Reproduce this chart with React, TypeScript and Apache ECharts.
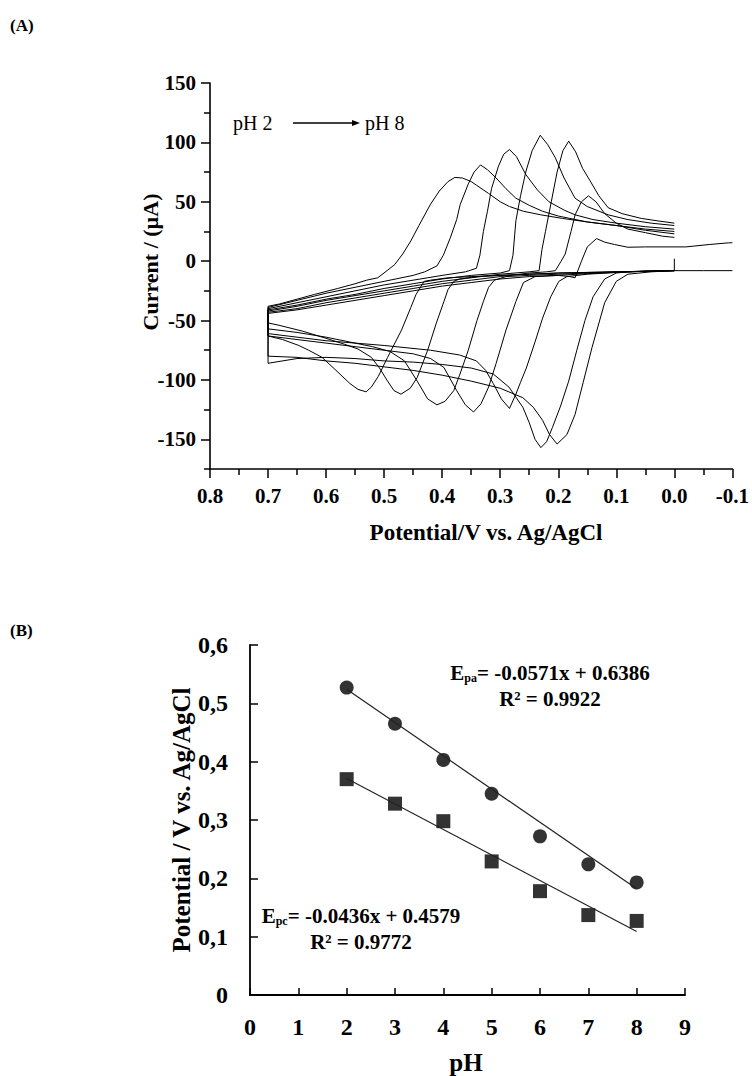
import React, { useEffect, useRef } from "react";
import * as echarts from "echarts";

type P = [number, number];

// ---------- (A) cyclic voltammograms: [potential V, current µA] ----------
const cvPH2: P[] = [
  [0.0, -8], [0.05, -8.5], [0.1, -9], [0.15, -9.5], [0.2, -10], [0.25, -11], [0.3, -12], [0.35, -13], [0.39, -14], [0.42, -16],
  [0.431, -17], [0.445, -28], [0.454, -39], [0.47, -58], [0.494, -81], [0.51, -97], [0.522, -106], [0.531, -110], [0.545, -108],
  [0.559, -103], [0.585, -91], [0.607, -81], [0.63, -75], [0.647, -71], [0.675, -66], [0.7, -63],
  [0.7, -38], [0.68, -36], [0.65, -32], [0.62, -28], [0.58, -23], [0.55, -19], [0.53, -16], [0.511, -14], [0.495, -8], [0.482, -3],
  [0.468, 6], [0.454, 17], [0.44, 30], [0.42, 48], [0.405, 59], [0.39, 67], [0.378, 70.5], [0.365, 70], [0.35, 67], [0.341, 64],
  [0.32, 57], [0.3, 50], [0.284, 46], [0.26, 42], [0.23, 39], [0.193, 36], [0.15, 33], [0.1, 30], [0.05, 27], [0.0, 25],
];
const cvPH3: P[] = [
  [0.0, -8], [0.05, -8.5], [0.1, -9], [0.15, -9.5], [0.2, -10], [0.25, -11], [0.3, -12], [0.34, -13], [0.37, -15], [0.38, -17],
  [0.39, -24], [0.397, -34], [0.41, -52], [0.425, -75], [0.443, -98], [0.455, -107], [0.471, -112], [0.483, -109], [0.494, -101],
  [0.508, -90], [0.522, -81], [0.545, -74], [0.568, -70], [0.6, -65], [0.64, -59], [0.681, -54], [0.7, -52],
  [0.7, -39], [0.65, -33], [0.6, -27], [0.55, -22], [0.5, -17], [0.45, -12], [0.43, -9], [0.409, -4], [0.398, 5], [0.386, 19.6],
  [0.375, 35], [0.369, 47.6], [0.355, 65], [0.345, 75], [0.334, 81], [0.322, 77], [0.307, 70], [0.29, 61], [0.273, 53], [0.25, 47],
  [0.227, 42], [0.2, 38], [0.15, 33], [0.1, 30], [0.05, 26], [0.0, 23],
];
const cvPH4: P[] = [
  [0.0, -8], [0.05, -8.5], [0.1, -9], [0.15, -10], [0.2, -11], [0.25, -12], [0.29, -13], [0.31, -16], [0.32, -22], [0.329, -34],
  [0.34, -50], [0.355, -75], [0.37, -96], [0.38, -109], [0.395, -118], [0.409, -121], [0.425, -116], [0.443, -101], [0.465, -84],
  [0.49, -76], [0.52, -72], [0.56, -68], [0.6, -64], [0.65, -60], [0.7, -57],
  [0.7, -40], [0.65, -35], [0.6, -30], [0.55, -25], [0.5, -20], [0.45, -16], [0.4, -12], [0.36, -9], [0.341, -6], [0.335, 5],
  [0.329, 25], [0.322, 42], [0.315, 61], [0.303, 80], [0.294, 90], [0.284, 94], [0.272, 88], [0.256, 73], [0.236, 60], [0.216, 50],
  [0.19, 43], [0.171, 39], [0.14, 35], [0.1, 32], [0.05, 29], [0.0, 27],
];
const cvPH5: P[] = [
  [0.0, -8], [0.05, -8.5], [0.1, -9.5], [0.15, -10.5], [0.2, -12], [0.24, -13], [0.26, -18], [0.273, -34], [0.29, -58], [0.307, -86],
  [0.32, -106], [0.333, -120], [0.346, -127], [0.36, -121], [0.375, -109], [0.397, -89.5], [0.42, -82], [0.45, -78], [0.5, -75],
  [0.55, -72], [0.6, -69], [0.65, -66], [0.7, -63],
  [0.7, -41], [0.65, -37], [0.6, -32], [0.55, -28], [0.5, -23], [0.45, -19], [0.4, -15], [0.35, -12], [0.3, -10], [0.284, -8],
  [0.278, 5], [0.273, 34], [0.265, 55], [0.256, 75], [0.245, 93], [0.231, 106], [0.218, 98], [0.205, 87], [0.19, 70], [0.171, 53],
  [0.15, 46], [0.114, 39], [0.08, 35], [0.04, 32], [0.0, 30],
];
const cvPH6: P[] = [
  [0.0, -8], [0.05, -8.5], [0.1, -9.5], [0.15, -11], [0.185, -13], [0.199, -17], [0.213, -30], [0.227, -48], [0.24, -68], [0.255, -90],
  [0.265, -102], [0.273, -112], [0.284, -124], [0.298, -116], [0.312, -103], [0.325, -92], [0.341, -84], [0.37, -79], [0.42, -75],
  [0.5, -71], [0.6, -67], [0.7, -61],
  [0.7, -42], [0.65, -38], [0.6, -33], [0.55, -29], [0.5, -25], [0.45, -21], [0.4, -17], [0.35, -14], [0.3, -11], [0.25, -9],
  [0.233, -8], [0.228, 10], [0.222, 25], [0.212, 50], [0.202, 75], [0.192, 93], [0.182, 101], [0.17, 92], [0.158, 78], [0.148, 70],
  [0.13, 55], [0.114, 45], [0.09, 40], [0.057, 36], [0.03, 34], [0.0, 32],
];
const cvPH7: P[] = [
  [0.0, 2], [0.0, -8], [0.05, -8.5], [0.08, -9], [0.1, -10], [0.12, -15], [0.14, -30], [0.154, -50], [0.168, -75], [0.182, -101], [0.196, -122],
  [0.21, -140], [0.22, -152], [0.23, -157], [0.24, -150], [0.25, -136], [0.261, -123], [0.285, -106], [0.312, -95], [0.35, -90],
  [0.4, -87], [0.45, -85], [0.5, -84], [0.55, -82], [0.6, -81], [0.65, -82], [0.7, -86],
  [0.7, -43], [0.65, -40], [0.6, -35], [0.55, -31], [0.5, -27], [0.45, -23], [0.4, -19], [0.35, -16], [0.3, -13], [0.25, -10],
  [0.22, -9], [0.205, -8], [0.195, 0], [0.188, 6], [0.178, 25], [0.171, 39], [0.16, 50], [0.148, 55], [0.135, 50], [0.12, 40],
  [0.1, 32], [0.08, 27], [0.05, 24], [0.02, 21], [0.0, 20],
];
const cvPH8: P[] = [
  [-0.1, -8], [-0.05, -8], [0.0, -8], [0.04, -9], [0.08, -11], [0.1, -17], [0.12, -35], [0.142, -73], [0.157, -102], [0.171, -129],
  [0.185, -146], [0.202, -154], [0.215, -146], [0.227, -134], [0.243, -123], [0.261, -115], [0.3, -107], [0.35, -101], [0.4, -96],
  [0.45, -92], [0.5, -89], [0.55, -86], [0.6, -84], [0.65, -81], [0.7, -80],
  [0.7, -44], [0.65, -41], [0.6, -37], [0.55, -33], [0.5, -29], [0.45, -25], [0.4, -21], [0.35, -18], [0.3, -15], [0.25, -13],
  [0.2, -12], [0.18, -13], [0.171, -14], [0.16, 0], [0.15, 12], [0.134, 19], [0.12, 16], [0.103, 14], [0.08, 11.7], [0.05, 12],
  [-0.02, 12], [-0.06, 14], [-0.093, 15.4], [-0.1, 15.5],
];
const cvCurves: P[][] = [cvPH2, cvPH3, cvPH4, cvPH5, cvPH6, cvPH7, cvPH8];
const cvNames = ["pH 2", "pH 3", "pH 4", "pH 5", "pH 6", "pH 7", "pH 8"];

const cvYMajor = [-150, -100, -50, 0, 50, 100, 150];
const cvYMinor = [-175, -125, -75, -25, 25, 75, 125];
const cvXMajor = [-0.1, 0.0, 0.1, 0.2, 0.3, 0.4, 0.5, 0.6, 0.7, 0.8];
const cvXMinor = [-0.05, 0.05, 0.15, 0.25, 0.35, 0.45, 0.55, 0.65, 0.75];

// ---------- (B) peak potentials vs pH ----------
const phValues = [2, 3, 4, 5, 6, 7, 8];
const epaValues = [0.527, 0.465, 0.403, 0.345, 0.272, 0.224, 0.193];
const epcValues = [0.37, 0.328, 0.298, 0.229, 0.178, 0.137, 0.127];
const epaFit: P[] = [[2, 0.524], [8, 0.182]];
const epcFit: P[] = [[2, 0.371], [8, 0.109]];

const SERIF = "'Liberation Serif','Times New Roman',serif";
const font = (size: number, bold = true) => `${bold ? "bold " : ""}${size}px ${SERIF}`;

export default function App() {
  const ref = useRef<HTMLDivElement>(null);
  useEffect(() => {
    if (!ref.current) return;
    const chart = echarts.init(ref.current, null, { renderer: "svg" });
    const black = "#000";
    const tickLabel = (size: number) => ({ fontFamily: SERIF, fontWeight: "bold" as const, fontSize: size, color: black });

    const option: any = {
      animation: false,
      backgroundColor: "#fff",
      grid: [
        { left: 210, top: 83, width: 528, height: 386 },
        { left: 250, top: 645, width: 435, height: 350 },
      ],
      xAxis: [
        {
          gridIndex: 0, type: "value", position: "bottom", min: -0.1, max: 0.8, inverse: true,
          axisLine: { onZero: false, lineStyle: { color: black, width: 1.6 } },
          axisTick: { inside: false, length: 9, customValues: cvXMajor, lineStyle: { color: black, width: 1.5 } },
          axisLabel: { ...tickLabel(21), margin: 16, customValues: cvXMajor, formatter: (v: number) => v.toFixed(1) },
          splitLine: { show: false },
        },
        {
          gridIndex: 0, type: "value", position: "bottom", min: -0.1, max: 0.8, inverse: true,
          axisLine: { show: false, onZero: false },
          axisTick: { inside: false, length: 6, customValues: cvXMinor, lineStyle: { color: black, width: 1.5 } },
          axisLabel: { show: false }, splitLine: { show: false },
        },
        {
          gridIndex: 1, type: "value", position: "bottom", min: 0, max: 9, interval: 1,
          axisLine: { onZero: false, lineStyle: { color: black, width: 1.8 } },
          axisTick: { inside: true, length: 7, lineStyle: { color: black, width: 1.5 } },
          axisLabel: { ...tickLabel(24), margin: 20 },
          splitLine: { show: false },
        },
      ],
      yAxis: [
        {
          gridIndex: 0, type: "value", position: "left", min: -175, max: 150,
          axisLine: { onZero: false, lineStyle: { color: black, width: 1.6 } },
          axisTick: { inside: false, length: 9, customValues: cvYMajor, lineStyle: { color: black, width: 1.5 } },
          axisLabel: { ...tickLabel(21), margin: 14, customValues: cvYMajor, formatter: (v: number) => String(v) },
          splitLine: { show: false },
        },
        {
          gridIndex: 0, type: "value", position: "left", min: -175, max: 150,
          axisLine: { show: false, onZero: false },
          axisTick: { inside: false, length: 6, customValues: cvYMinor, lineStyle: { color: black, width: 1.5 } },
          axisLabel: { show: false }, splitLine: { show: false },
        },
        {
          gridIndex: 1, type: "value", position: "left", min: 0, max: 0.6, interval: 0.1,
          axisLine: { onZero: false, lineStyle: { color: black, width: 1.8 } },
          axisTick: { inside: true, length: 8, lineStyle: { color: black, width: 1.5 } },
          axisLabel: {
            ...tickLabel(24), margin: 22,
            formatter: (v: number) => (Math.abs(v) < 1e-9 ? "0" : v.toFixed(1).replace(".", ",")),
          },
          splitLine: { show: false },
        },
      ],
      series: [
        ...cvCurves.map((c, i) => ({
          name: cvNames[i], type: "line", xAxisIndex: 0, yAxisIndex: 0, data: c,
          showSymbol: false, symbol: "none", silent: true,
          lineStyle: { color: black, width: 1 },
        })),
        {
          name: "Epa fit", type: "line", xAxisIndex: 2, yAxisIndex: 2, data: epaFit,
          showSymbol: false, symbol: "none", silent: true, lineStyle: { color: "#222", width: 1.2 },
        },
        {
          name: "Epc fit", type: "line", xAxisIndex: 2, yAxisIndex: 2, data: epcFit,
          showSymbol: false, symbol: "none", silent: true, lineStyle: { color: "#222", width: 1.2 },
        },
        {
          name: "Epa", type: "scatter", xAxisIndex: 2, yAxisIndex: 2, symbol: "circle", symbolSize: 14,
          itemStyle: { color: black }, data: phValues.map((p, i) => [p, epaValues[i]]),
        },
        {
          name: "Epc", type: "scatter", xAxisIndex: 2, yAxisIndex: 2, symbol: "rect", symbolSize: 14,
          itemStyle: { color: black }, data: phValues.map((p, i) => [p, epcValues[i]]),
        },
      ],
      graphic: [
        { type: "text", x: 10, y: 17, style: { text: "(A)", font: font(17), fill: black } },
        { type: "text", x: 10, y: 622, style: { text: "(B)", font: font(17), fill: black } },
        {
          type: "text", x: 150, y: 262, rotation: Math.PI / 2,
          style: { text: "Current / (µA)", font: font(22), fill: black, align: "center", verticalAlign: "middle" },
        },
        {
          type: "text", x: 486, y: 532,
          style: { text: "Potential/V vs. Ag/AgCl", font: font(23), fill: black, align: "center", verticalAlign: "middle" },
        },
        { type: "text", x: 233, y: 123, style: { text: "pH 2", font: font(20, false), fill: black, verticalAlign: "middle" } },
        { type: "text", x: 365, y: 123, style: { text: "pH 8", font: font(20, false), fill: black, verticalAlign: "middle" } },
        { type: "line", shape: { x1: 293, y1: 123, x2: 354, y2: 123 }, style: { stroke: black, lineWidth: 1.5 } },
        { type: "polygon", shape: { points: [[352, 120], [360, 123], [352, 126]] }, style: { fill: black } },
        {
          type: "text", x: 181, y: 820, rotation: Math.PI / 2,
          style: { text: "Potential / V vs. Ag/AgCl", font: font(25), fill: black, align: "center", verticalAlign: "middle" },
        },
        {
          type: "text", x: 466, y: 1062,
          style: { text: "pH", font: font(25), fill: black, align: "center", verticalAlign: "middle" },
        },
        {
          type: "text", x: 550, y: 673,
          style: {
            text: "{e|E}{s|pa}{e|= -0.0571x + 0.6386}", align: "center", verticalAlign: "middle",
            rich: { e: { font: font(21), fill: black }, s: { font: font(12), fill: black, verticalAlign: "bottom" } },
          },
        },
        {
          type: "text", x: 550, y: 699,
          style: { text: "R² = 0.9922", font: font(21), fill: black, align: "center", verticalAlign: "middle" },
        },
        {
          type: "text", x: 361, y: 916,
          style: {
            text: "{e|E}{s|pc}{e|= -0.0436x + 0.4579}", align: "center", verticalAlign: "middle",
            rich: { e: { font: font(21), fill: black }, s: { font: font(12), fill: black, verticalAlign: "bottom" } },
          },
        },
        {
          type: "text", x: 361, y: 942,
          style: { text: "R² = 0.9772", font: font(21), fill: black, align: "center", verticalAlign: "middle" },
        },
      ],
    };
    chart.setOption(option);
    return () => chart.dispose();
  }, []);
  return (
    <div
      ref={ref}
      style={{ position: "absolute", left: 0, top: 0, width: 752, height: 1076, background: "#fff" }}
    />
  );
}
